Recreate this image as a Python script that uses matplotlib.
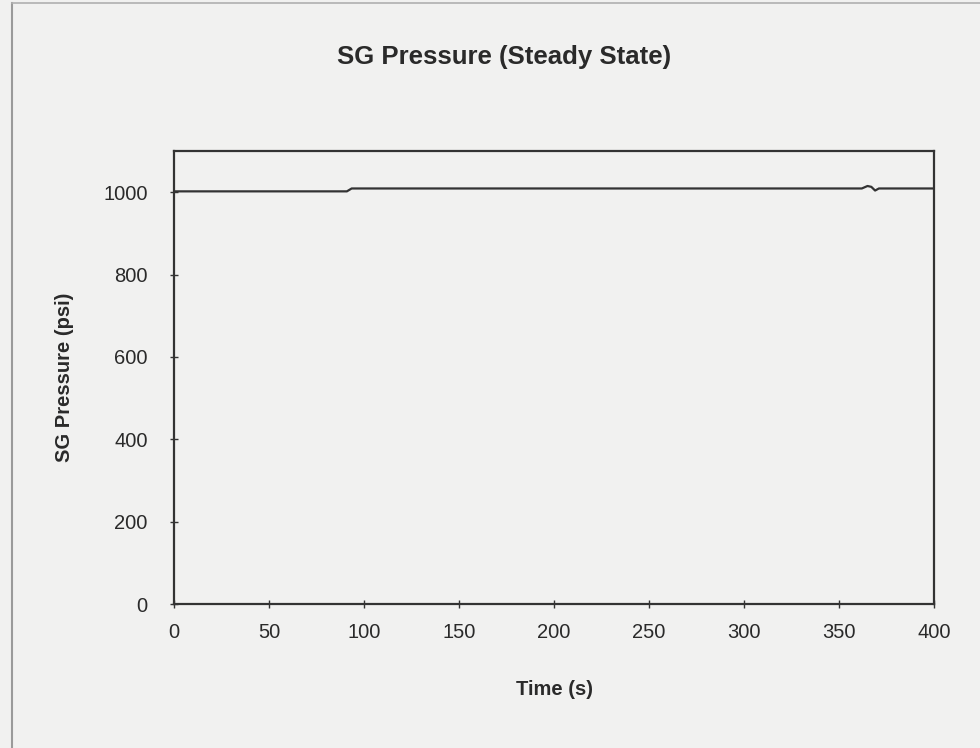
import matplotlib
matplotlib.use("Agg")
import matplotlib.pyplot as plt
from matplotlib.lines import Line2D

# Steam generator pressure over the steady-state run
time_s = [0, 20, 40, 60, 80, 91, 93.5, 120, 160, 200, 240, 280, 320, 355, 362,
          365, 367, 369, 371, 380, 400]
pressure_psi = [1002, 1002, 1002, 1002, 1002, 1002, 1009, 1009, 1009, 1009, 1009,
                1009, 1009, 1009, 1009, 1015, 1013, 1004, 1009, 1009, 1009]

x_ticks = [0, 50, 100, 150, 200, 250, 300, 350, 400]
y_ticks = [0, 200, 400, 600, 800, 1000]

plt.rcParams['font.family'] = ['Liberation Sans', 'DejaVu Sans']

bg = '#f1f1f0'
ink = '#333333'
txt = '#2a2a2a'

fig = plt.figure(figsize=(9.8, 7.48), dpi=100, facecolor=bg)
ax = fig.add_axes([174 / 980, 1 - 604 / 748, 760 / 980, 453 / 748], facecolor=bg)

ax.plot(time_s, pressure_psi, color=ink, lw=1.6)

ax.set_xlim(0, 400)
ax.set_ylim(0, 1100)
ax.set_xticks(x_ticks)
ax.set_yticks(y_ticks)
ax.tick_params(direction='inout', length=6, width=1, colors=ink,
               labelsize=14.5, labelcolor=txt)
ax.tick_params(axis='x', pad=11)
ax.tick_params(axis='y', pad=16)
for s in ax.spines.values():
    s.set_color(ink)
    s.set_linewidth(1.6)

ax.set_xlabel('Time (s)', fontsize=14.5, fontweight='bold', color=txt, labelpad=27)
ax.set_ylabel('SG Pressure (psi)', fontsize=14.5, fontweight='bold', color=txt)
ax.yaxis.set_label_coords(-(174 - 74) / 760, 0.5)

fig.text(504 / 980, 1 - 57 / 748, 'SG Pressure (Steady State)', ha='center', va='center',
         fontsize=18.5, fontweight='bold', color=txt)

# Thin frame along the left and top edges of the page
fig.add_artist(Line2D([12 / 980, 12 / 980], [0, 1 - 3 / 748], transform=fig.transFigure,
                      color='#9a9a9a', lw=1.5))
fig.add_artist(Line2D([12 / 980, 1], [1 - 3 / 748, 1 - 3 / 748], transform=fig.transFigure,
                      color='#b0b0b0', lw=1.2))

fig.savefig('out.png', dpi=100, facecolor=bg)
